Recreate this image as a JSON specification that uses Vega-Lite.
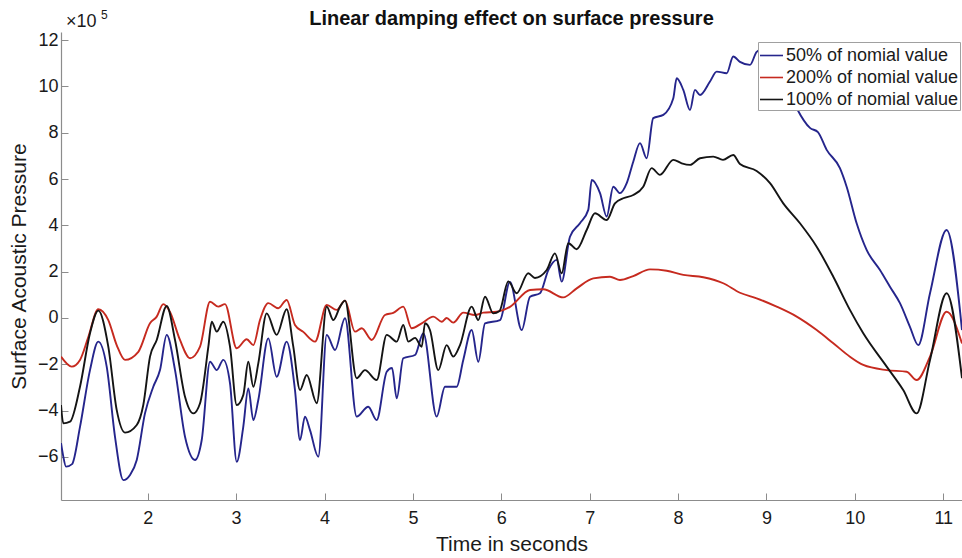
{
  "$schema": "https://vega.github.io/schema/vega-lite/v6.json",
  "width": 901,
  "height": 468,
  "autosize": {"type": "none"},
  "padding": {"left": 61, "top": 32, "right": 0, "bottom": 58},
  "background": "white",
  "config": {
    "font": "Liberation Sans",
    "view": {"stroke": null}
  },
  "title": {
    "text": "Linear damping effect on surface pressure",
    "font": "Liberation Sans",
    "fontSize": 20,
    "fontWeight": "bold",
    "color": "#111111",
    "anchor": "middle",
    "baseline": "alphabetic",
    "offset": 7,
    "dy": 43
  },
  "datasets": {
    "traces": [
      {"damping": "50%", "time": 1.019, "pressure": -5.40},
      {"damping": "50%", "time": 1.042, "pressure": -5.92},
      {"damping": "50%", "time": 1.076, "pressure": -6.42},
      {"damping": "50%", "time": 1.144, "pressure": -6.31},
      {"damping": "50%", "time": 1.234, "pressure": -4.70},
      {"damping": "50%", "time": 1.347, "pressure": -2.25},
      {"damping": "50%", "time": 1.441, "pressure": -1.02},
      {"damping": "50%", "time": 1.536, "pressure": -2.10},
      {"damping": "50%", "time": 1.630, "pressure": -5.13},
      {"damping": "50%", "time": 1.724, "pressure": -7.00},
      {"damping": "50%", "time": 1.800, "pressure": -6.78},
      {"damping": "50%", "time": 1.876, "pressure": -6.13},
      {"damping": "50%", "time": 1.969, "pressure": -4.12},
      {"damping": "50%", "time": 2.063, "pressure": -2.97},
      {"damping": "50%", "time": 2.139, "pressure": -2.25},
      {"damping": "50%", "time": 2.215, "pressure": -0.73},
      {"damping": "50%", "time": 2.309, "pressure": -2.25},
      {"damping": "50%", "time": 2.422, "pressure": -5.13},
      {"damping": "50%", "time": 2.535, "pressure": -6.13},
      {"damping": "50%", "time": 2.611, "pressure": -5.27},
      {"damping": "50%", "time": 2.705, "pressure": -1.89},
      {"damping": "50%", "time": 2.781, "pressure": -2.25},
      {"damping": "50%", "time": 2.855, "pressure": -1.81},
      {"damping": "50%", "time": 2.931, "pressure": -2.82},
      {"damping": "50%", "time": 3.007, "pressure": -6.21},
      {"damping": "50%", "time": 3.081, "pressure": -4.70},
      {"damping": "50%", "time": 3.138, "pressure": -3.04},
      {"damping": "50%", "time": 3.195, "pressure": -4.41},
      {"damping": "50%", "time": 3.251, "pressure": -3.54},
      {"damping": "50%", "time": 3.364, "pressure": -0.88},
      {"damping": "50%", "time": 3.459, "pressure": -2.54},
      {"damping": "50%", "time": 3.572, "pressure": -1.02},
      {"damping": "50%", "time": 3.666, "pressure": -3.11},
      {"damping": "50%", "time": 3.723, "pressure": -5.27},
      {"damping": "50%", "time": 3.779, "pressure": -4.26},
      {"damping": "50%", "time": 3.836, "pressure": -4.84},
      {"damping": "50%", "time": 3.930, "pressure": -5.99},
      {"damping": "50%", "time": 4.025, "pressure": -0.73},
      {"damping": "50%", "time": 4.119, "pressure": -1.38},
      {"damping": "50%", "time": 4.232, "pressure": -0.01},
      {"damping": "50%", "time": 4.364, "pressure": -4.26},
      {"damping": "50%", "time": 4.495, "pressure": -3.83},
      {"damping": "50%", "time": 4.590, "pressure": -4.41},
      {"damping": "50%", "time": 4.704, "pressure": -2.32},
      {"damping": "50%", "time": 4.764, "pressure": -2.16},
      {"damping": "50%", "time": 4.817, "pressure": -3.47},
      {"damping": "50%", "time": 4.891, "pressure": -1.74},
      {"damping": "50%", "time": 5.024, "pressure": -1.60},
      {"damping": "50%", "time": 5.118, "pressure": -0.66},
      {"damping": "50%", "time": 5.269, "pressure": -4.26},
      {"damping": "50%", "time": 5.363, "pressure": -2.97},
      {"damping": "50%", "time": 5.495, "pressure": -2.97},
      {"damping": "50%", "time": 5.570, "pressure": -1.81},
      {"damping": "50%", "time": 5.665, "pressure": -0.52},
      {"damping": "50%", "time": 5.740, "pressure": -1.89},
      {"damping": "50%", "time": 5.816, "pressure": -0.23},
      {"damping": "50%", "time": 5.986, "pressure": -0.09},
      {"damping": "50%", "time": 6.098, "pressure": 1.56},
      {"damping": "50%", "time": 6.231, "pressure": -0.52},
      {"damping": "50%", "time": 6.325, "pressure": 0.92},
      {"damping": "50%", "time": 6.438, "pressure": 1.07},
      {"damping": "50%", "time": 6.532, "pressure": 2.07},
      {"damping": "50%", "time": 6.627, "pressure": 2.51},
      {"damping": "50%", "time": 6.683, "pressure": 1.57},
      {"damping": "50%", "time": 6.777, "pressure": 3.51},
      {"damping": "50%", "time": 6.890, "pressure": 4.09},
      {"damping": "50%", "time": 6.984, "pressure": 4.67},
      {"damping": "50%", "time": 7.023, "pressure": 5.96},
      {"damping": "50%", "time": 7.117, "pressure": 5.39},
      {"damping": "50%", "time": 7.192, "pressure": 4.38},
      {"damping": "50%", "time": 7.267, "pressure": 5.67},
      {"damping": "50%", "time": 7.343, "pressure": 5.39},
      {"damping": "50%", "time": 7.419, "pressure": 5.82},
      {"damping": "50%", "time": 7.493, "pressure": 6.75},
      {"damping": "50%", "time": 7.569, "pressure": 7.55},
      {"damping": "50%", "time": 7.645, "pressure": 6.90},
      {"damping": "50%", "time": 7.719, "pressure": 8.63},
      {"damping": "50%", "time": 7.833, "pressure": 8.77},
      {"damping": "50%", "time": 7.946, "pressure": 9.49},
      {"damping": "50%", "time": 7.984, "pressure": 10.35},
      {"damping": "50%", "time": 8.059, "pressure": 9.85},
      {"damping": "50%", "time": 8.135, "pressure": 8.98},
      {"damping": "50%", "time": 8.191, "pressure": 9.85},
      {"damping": "50%", "time": 8.248, "pressure": 9.63},
      {"damping": "50%", "time": 8.361, "pressure": 10.21},
      {"damping": "50%", "time": 8.437, "pressure": 10.64},
      {"damping": "50%", "time": 8.550, "pressure": 10.57},
      {"damping": "50%", "time": 8.624, "pressure": 11.29},
      {"damping": "50%", "time": 8.700, "pressure": 11.06},
      {"damping": "50%", "time": 8.813, "pressure": 10.93},
      {"damping": "50%", "time": 8.889, "pressure": 11.49},
      {"damping": "50%", "time": 8.983, "pressure": 11.66},
      {"damping": "50%", "time": 9.153, "pressure": 10.80},
      {"damping": "50%", "time": 9.342, "pressure": 9.06},
      {"damping": "50%", "time": 9.492, "pressure": 8.21},
      {"damping": "50%", "time": 9.582, "pressure": 8.03},
      {"damping": "50%", "time": 9.681, "pressure": 7.26},
      {"damping": "50%", "time": 9.831, "pressure": 6.47},
      {"damping": "50%", "time": 9.907, "pressure": 5.67},
      {"damping": "50%", "time": 10.020, "pressure": 4.09},
      {"damping": "50%", "time": 10.133, "pressure": 2.94},
      {"damping": "50%", "time": 10.284, "pressure": 2.07},
      {"damping": "50%", "time": 10.397, "pressure": 1.35},
      {"damping": "50%", "time": 10.510, "pressure": 0.64},
      {"damping": "50%", "time": 10.623, "pressure": -0.38},
      {"damping": "50%", "time": 10.717, "pressure": -1.17},
      {"damping": "50%", "time": 10.850, "pressure": 1.07},
      {"damping": "50%", "time": 11.038, "pressure": 3.80},
      {"damping": "50%", "time": 11.212, "pressure": -0.52},

      {"damping": "200%", "time": 1.019, "pressure": -1.67},
      {"damping": "200%", "time": 1.140, "pressure": -2.10},
      {"damping": "200%", "time": 1.234, "pressure": -1.81},
      {"damping": "200%", "time": 1.325, "pressure": -0.86},
      {"damping": "200%", "time": 1.441, "pressure": 0.38},
      {"damping": "200%", "time": 1.554, "pressure": -0.09},
      {"damping": "200%", "time": 1.649, "pressure": -1.17},
      {"damping": "200%", "time": 1.743, "pressure": -1.81},
      {"damping": "200%", "time": 1.894, "pressure": -1.46},
      {"damping": "200%", "time": 2.026, "pressure": -0.23},
      {"damping": "200%", "time": 2.102, "pressure": 0.06},
      {"damping": "200%", "time": 2.176, "pressure": 0.60},
      {"damping": "200%", "time": 2.252, "pressure": 0.26},
      {"damping": "200%", "time": 2.365, "pressure": -0.95},
      {"damping": "200%", "time": 2.479, "pressure": -1.74},
      {"damping": "200%", "time": 2.592, "pressure": -1.24},
      {"damping": "200%", "time": 2.705, "pressure": 0.70},
      {"damping": "200%", "time": 2.799, "pressure": 0.49},
      {"damping": "200%", "time": 2.874, "pressure": 0.60},
      {"damping": "200%", "time": 3.007, "pressure": -1.31},
      {"damping": "200%", "time": 3.120, "pressure": -0.92},
      {"damping": "200%", "time": 3.195, "pressure": -1.17},
      {"damping": "200%", "time": 3.270, "pressure": -0.09},
      {"damping": "200%", "time": 3.364, "pressure": 0.64},
      {"damping": "200%", "time": 3.477, "pressure": 0.42},
      {"damping": "200%", "time": 3.572, "pressure": 0.78},
      {"damping": "200%", "time": 3.666, "pressure": -0.30},
      {"damping": "200%", "time": 3.760, "pressure": -0.60},
      {"damping": "200%", "time": 3.893, "pressure": -1.02},
      {"damping": "200%", "time": 4.025, "pressure": 0.56},
      {"damping": "200%", "time": 4.138, "pressure": 0.35},
      {"damping": "200%", "time": 4.232, "pressure": 0.75},
      {"damping": "200%", "time": 4.345, "pressure": -0.59},
      {"damping": "200%", "time": 4.421, "pressure": -0.44},
      {"damping": "200%", "time": 4.534, "pressure": -0.95},
      {"damping": "200%", "time": 4.684, "pressure": 0.13},
      {"damping": "200%", "time": 4.778, "pressure": 0.22},
      {"damping": "200%", "time": 4.891, "pressure": 0.49},
      {"damping": "200%", "time": 4.986, "pressure": -0.44},
      {"damping": "200%", "time": 5.100, "pressure": -0.23},
      {"damping": "200%", "time": 5.231, "pressure": 0.06},
      {"damping": "200%", "time": 5.326, "pressure": -0.16},
      {"damping": "200%", "time": 5.382, "pressure": 0.00},
      {"damping": "200%", "time": 5.457, "pressure": -0.20},
      {"damping": "200%", "time": 5.570, "pressure": 0.23},
      {"damping": "200%", "time": 5.703, "pressure": 0.13},
      {"damping": "200%", "time": 5.796, "pressure": 0.23},
      {"damping": "200%", "time": 5.948, "pressure": 0.27},
      {"damping": "200%", "time": 6.098, "pressure": 0.48},
      {"damping": "200%", "time": 6.325, "pressure": 1.21},
      {"damping": "200%", "time": 6.475, "pressure": 1.24},
      {"damping": "200%", "time": 6.701, "pressure": 0.89},
      {"damping": "200%", "time": 6.853, "pressure": 1.28},
      {"damping": "200%", "time": 7.041, "pressure": 1.71},
      {"damping": "200%", "time": 7.230, "pressure": 1.78},
      {"damping": "200%", "time": 7.343, "pressure": 1.64},
      {"damping": "200%", "time": 7.493, "pressure": 1.81},
      {"damping": "200%", "time": 7.682, "pressure": 2.10},
      {"damping": "200%", "time": 7.871, "pressure": 2.04},
      {"damping": "200%", "time": 8.059, "pressure": 1.86},
      {"damping": "200%", "time": 8.285, "pressure": 1.76},
      {"damping": "200%", "time": 8.511, "pressure": 1.50},
      {"damping": "200%", "time": 8.700, "pressure": 1.09},
      {"damping": "200%", "time": 8.889, "pressure": 0.85},
      {"damping": "200%", "time": 9.115, "pressure": 0.49},
      {"damping": "200%", "time": 9.342, "pressure": 0.06},
      {"damping": "200%", "time": 9.568, "pressure": -0.52},
      {"damping": "200%", "time": 9.756, "pressure": -1.09},
      {"damping": "200%", "time": 9.944, "pressure": -1.67},
      {"damping": "200%", "time": 10.095, "pressure": -2.03},
      {"damping": "200%", "time": 10.360, "pressure": -2.25},
      {"damping": "200%", "time": 10.586, "pressure": -2.32},
      {"damping": "200%", "time": 10.699, "pressure": -2.68},
      {"damping": "200%", "time": 10.850, "pressure": -1.67},
      {"damping": "200%", "time": 11.038, "pressure": 0.27},
      {"damping": "200%", "time": 11.212, "pressure": -1.10},

      {"damping": "100%", "time": 1.019, "pressure": -3.76},
      {"damping": "100%", "time": 1.045, "pressure": -4.55},
      {"damping": "100%", "time": 1.121, "pressure": -4.48},
      {"damping": "100%", "time": 1.234, "pressure": -2.97},
      {"damping": "100%", "time": 1.347, "pressure": -0.66},
      {"damping": "100%", "time": 1.441, "pressure": 0.32},
      {"damping": "100%", "time": 1.554, "pressure": -1.24},
      {"damping": "100%", "time": 1.649, "pressure": -3.97},
      {"damping": "100%", "time": 1.743, "pressure": -4.95},
      {"damping": "100%", "time": 1.876, "pressure": -4.62},
      {"damping": "100%", "time": 1.950, "pressure": -3.76},
      {"damping": "100%", "time": 2.026, "pressure": -1.67},
      {"damping": "100%", "time": 2.102, "pressure": -0.95},
      {"damping": "100%", "time": 2.215, "pressure": 0.52},
      {"damping": "100%", "time": 2.309, "pressure": -0.95},
      {"damping": "100%", "time": 2.422, "pressure": -3.40},
      {"damping": "100%", "time": 2.516, "pressure": -4.12},
      {"damping": "100%", "time": 2.592, "pressure": -3.68},
      {"damping": "100%", "time": 2.686, "pressure": -1.24},
      {"damping": "100%", "time": 2.724, "pressure": -0.16},
      {"damping": "100%", "time": 2.781, "pressure": -0.59},
      {"damping": "100%", "time": 2.855, "pressure": -0.16},
      {"damping": "100%", "time": 2.931, "pressure": -1.24},
      {"damping": "100%", "time": 3.007, "pressure": -3.76},
      {"damping": "100%", "time": 3.081, "pressure": -3.33},
      {"damping": "100%", "time": 3.138, "pressure": -1.89},
      {"damping": "100%", "time": 3.195, "pressure": -2.97},
      {"damping": "100%", "time": 3.251, "pressure": -1.96},
      {"damping": "100%", "time": 3.346, "pressure": 0.20},
      {"damping": "100%", "time": 3.459, "pressure": -0.73},
      {"damping": "100%", "time": 3.572, "pressure": 0.38},
      {"damping": "100%", "time": 3.647, "pressure": -1.24},
      {"damping": "100%", "time": 3.723, "pressure": -3.11},
      {"damping": "100%", "time": 3.799, "pressure": -2.46},
      {"damping": "100%", "time": 3.912, "pressure": -3.68},
      {"damping": "100%", "time": 4.025, "pressure": 0.49},
      {"damping": "100%", "time": 4.100, "pressure": -0.09},
      {"damping": "100%", "time": 4.175, "pressure": 0.48},
      {"damping": "100%", "time": 4.232, "pressure": 0.75},
      {"damping": "100%", "time": 4.364, "pressure": -2.60},
      {"damping": "100%", "time": 4.458, "pressure": -2.25},
      {"damping": "100%", "time": 4.590, "pressure": -2.68},
      {"damping": "100%", "time": 4.704, "pressure": -0.73},
      {"damping": "100%", "time": 4.817, "pressure": -1.02},
      {"damping": "100%", "time": 4.891, "pressure": -0.30},
      {"damping": "100%", "time": 4.948, "pressure": -1.02},
      {"damping": "100%", "time": 5.024, "pressure": -0.86},
      {"damping": "100%", "time": 5.100, "pressure": -1.24},
      {"damping": "100%", "time": 5.137, "pressure": -0.23},
      {"damping": "100%", "time": 5.193, "pressure": -0.52},
      {"damping": "100%", "time": 5.287, "pressure": -2.25},
      {"damping": "100%", "time": 5.382, "pressure": -1.17},
      {"damping": "100%", "time": 5.457, "pressure": -1.67},
      {"damping": "100%", "time": 5.533, "pressure": -1.17},
      {"damping": "100%", "time": 5.665, "pressure": 0.49},
      {"damping": "100%", "time": 5.740, "pressure": -0.09},
      {"damping": "100%", "time": 5.816, "pressure": 0.92},
      {"damping": "100%", "time": 5.909, "pressure": 0.20},
      {"damping": "100%", "time": 5.980, "pressure": 0.30},
      {"damping": "100%", "time": 6.079, "pressure": 1.58},
      {"damping": "100%", "time": 6.174, "pressure": 1.07},
      {"damping": "100%", "time": 6.305, "pressure": 1.93},
      {"damping": "100%", "time": 6.381, "pressure": 1.73},
      {"damping": "100%", "time": 6.514, "pressure": 2.07},
      {"damping": "100%", "time": 6.607, "pressure": 2.79},
      {"damping": "100%", "time": 6.683, "pressure": 1.93},
      {"damping": "100%", "time": 6.758, "pressure": 3.23},
      {"damping": "100%", "time": 6.853, "pressure": 2.97},
      {"damping": "100%", "time": 6.966, "pressure": 3.80},
      {"damping": "100%", "time": 7.060, "pressure": 4.52},
      {"damping": "100%", "time": 7.192, "pressure": 4.23},
      {"damping": "100%", "time": 7.286, "pressure": 4.95},
      {"damping": "100%", "time": 7.380, "pressure": 5.17},
      {"damping": "100%", "time": 7.493, "pressure": 5.31},
      {"damping": "100%", "time": 7.606, "pressure": 5.67},
      {"damping": "100%", "time": 7.701, "pressure": 6.47},
      {"damping": "100%", "time": 7.795, "pressure": 6.18},
      {"damping": "100%", "time": 7.946, "pressure": 6.83},
      {"damping": "100%", "time": 8.041, "pressure": 6.68},
      {"damping": "100%", "time": 8.135, "pressure": 6.61},
      {"damping": "100%", "time": 8.248, "pressure": 6.90},
      {"damping": "100%", "time": 8.398, "pressure": 6.97},
      {"damping": "100%", "time": 8.508, "pressure": 6.83},
      {"damping": "100%", "time": 8.624, "pressure": 7.04},
      {"damping": "100%", "time": 8.700, "pressure": 6.65},
      {"damping": "100%", "time": 8.889, "pressure": 6.35},
      {"damping": "100%", "time": 9.040, "pressure": 5.82},
      {"damping": "100%", "time": 9.190, "pressure": 4.95},
      {"damping": "100%", "time": 9.379, "pressure": 4.09},
      {"damping": "100%", "time": 9.568, "pressure": 3.08},
      {"damping": "100%", "time": 9.756, "pressure": 1.78},
      {"damping": "100%", "time": 9.944, "pressure": 0.35},
      {"damping": "100%", "time": 10.095, "pressure": -0.66},
      {"damping": "100%", "time": 10.360, "pressure": -2.10},
      {"damping": "100%", "time": 10.547, "pressure": -3.11},
      {"damping": "100%", "time": 10.699, "pressure": -4.12},
      {"damping": "100%", "time": 10.850, "pressure": -1.81},
      {"damping": "100%", "time": 11.038, "pressure": 1.07},
      {"damping": "100%", "time": 11.212, "pressure": -2.60}
    ],
    "exponent": [{"time": 1.019, "pressure": 12.35}]
  },
  "layer": [
    {
      "data": {"name": "traces"},
      "mark": {"type": "line", "strokeWidth": 1.9, "clip": true, "interpolate": "monotone"},
      "encoding": {
        "x": {
          "field": "time",
          "type": "quantitative",
          "scale": {"domain": [1.019, 11.212], "nice": false, "zero": false},
          "axis": {
            "title": "Time in seconds",
            "values": [2, 3, 4, 5, 6, 7, 8, 9, 10, 11],
            "format": "d",
            "grid": false,
            "tickSize": -7,
            "labelPadding": 16,
            "labelFontSize": 18,
            "labelColor": "#1a1a1a",
            "labelFont": "Liberation Sans",
            "titleFont": "Liberation Sans",
            "titleFontSize": 21,
            "titleFontWeight": "normal",
            "titleColor": "#1a1a1a",
            "titlePadding": 6,
            "domainColor": "#8c8c8c",
            "tickColor": "#8c8c8c",
            "domainWidth": 1.2,
            "labelFlush": false
          }
        },
        "y": {
          "field": "pressure",
          "type": "quantitative",
          "scale": {"domain": [-7.86, 12.35], "nice": false, "zero": false},
          "axis": {
            "title": "Surface Acoustic Pressure",
            "values": [-6, -4, -2, 0, 2, 4, 6, 8, 10, 12],
            "grid": false,
            "tickSize": -7,
            "labelPadding": 10,
            "labelFontSize": 18,
            "labelColor": "#1a1a1a",
            "labelFont": "Liberation Sans",
            "titleFont": "Liberation Sans",
            "titleFontSize": 21,
            "titleFontWeight": "normal",
            "titleColor": "#1a1a1a",
            "titlePadding": 8,
            "domainColor": "#8c8c8c",
            "tickColor": "#8c8c8c",
            "domainWidth": 1.2,
            "labelFlush": false
          }
        },
        "color": {
          "field": "damping",
          "type": "nominal",
          "sort": null,
          "scale": {
            "domain": ["50%", "200%", "100%"],
            "range": ["#25258c", "#c62a1f", "#141414"]
          },
          "legend": {
            "title": null,
            "orient": "none",
            "legendX": 697,
            "legendY": 10,
            "direction": "vertical",
            "fillColor": "white",
            "strokeColor": "#a0a0a0",
            "padding": 1,
            "symbolType": "stroke",
            "symbolSize": 529,
            "symbolStrokeWidth": 1.6,
            "labelFontSize": 18,
            "labelFont": "Liberation Sans",
            "labelColor": "#1a1a1a",
            "labelOffset": 2,
            "labelLimit": 300,
            "rowPadding": -1.4,
            "labelExpr": "datum.label + ' of nomial value'"
          }
        }
      }
    },
    {
      "data": {"name": "exponent"},
      "mark": {"type": "text", "text": "×10", "align": "left", "baseline": "alphabetic", "fontSize": 18, "font": "Liberation Sans", "color": "#1a1a1a", "dx": 5, "dy": -5},
      "encoding": {
        "x": {"field": "time", "type": "quantitative"},
        "y": {"field": "pressure", "type": "quantitative"}
      }
    },
    {
      "data": {"name": "exponent"},
      "mark": {"type": "text", "text": "5", "align": "left", "baseline": "alphabetic", "fontSize": 12, "font": "Liberation Sans", "color": "#1a1a1a", "dx": 40, "dy": -13},
      "encoding": {
        "x": {"field": "time", "type": "quantitative"},
        "y": {"field": "pressure", "type": "quantitative"}
      }
    }
  ]
}
